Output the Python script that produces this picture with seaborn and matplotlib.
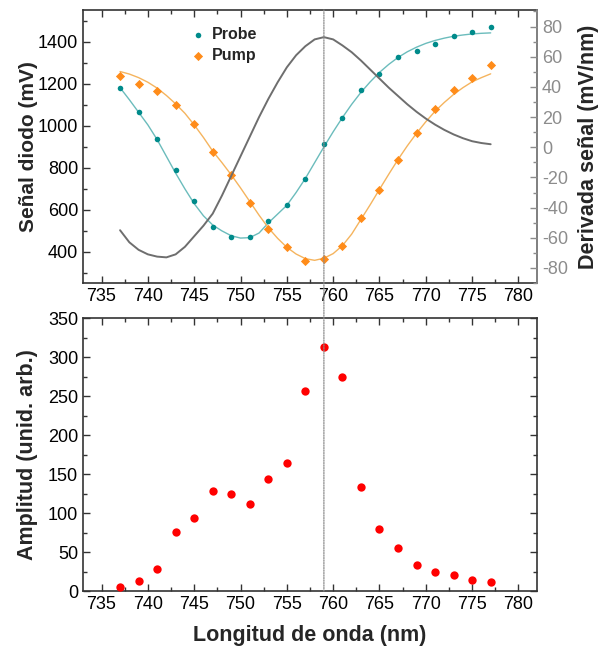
import matplotlib
matplotlib.use('Agg')
import matplotlib.pyplot as plt
from matplotlib.patches import ConnectionPatch
from matplotlib.ticker import MultipleLocator
import seaborn as sns
import pandas as pd
import numpy as np

sns.set_theme(style='ticks')
plt.rcParams['font.family'] = ['Liberation Sans', 'DejaVu Sans']
plt.rcParams['axes.unicode_minus'] = False

# measured points (2 nm steps)
wl = [737, 739, 741, 743, 745, 747, 749, 751, 753, 755, 757,
      759, 761, 763, 765, 767, 769, 771, 773, 775, 777]
probe = [1179, 1068, 940, 789, 641, 519, 471, 471, 548, 622, 749,
         913, 1040, 1170, 1249, 1330, 1359, 1390, 1430, 1449, 1470]
pump = [1238, 1199, 1165, 1099, 1008, 878, 767, 633, 510, 425, 356,
        365, 427, 560, 695, 838, 968, 1080, 1170, 1229, 1289]
amplitud = [5, 13, 28, 76, 94, 128, 124, 112, 143, 164, 256,
            313, 274, 134, 80, 55, 33, 24, 20, 14, 12]

# fitted curves (1 nm steps)
wl_fit = list(range(737, 778))
probe_fit = [1182, 1125, 1065, 1005, 935, 855, 775, 700, 630, 572,
             528, 500, 477, 466, 468, 490, 538, 580, 622, 683,
             750, 825, 900, 972, 1040, 1103, 1160, 1210, 1255, 1293,
             1326, 1353, 1375, 1393, 1407, 1418, 1427, 1433, 1438, 1441, 1443]
pump_fit = [1259, 1247, 1230, 1208, 1180, 1145, 1105, 1060, 1005, 945,
            880, 825, 767, 705, 640, 575, 515, 465, 422, 390,
            368, 360, 370, 392, 430, 485, 555, 625, 698, 770,
            840, 905, 965, 1020, 1070, 1112, 1150, 1182, 1210, 1230, 1248]
derivada = [-55, -63, -68, -71, -72.5, -73, -71, -66, -59, -52,
            -44, -32, -19, -6, 7, 20, 32, 43, 53, 61,
            67, 71.5, 73, 71.5, 67.5, 63, 57.5, 51.5, 45.5, 39.5,
            34, 28.5, 23.5, 19, 15, 11.5, 8.5, 6, 4, 2.8, 2]

pico = 759

teal = '#008b8b'
teal_fit = '#6bbcbc'
orange = '#ff8c1a'
orange_fit = '#f5b45e'
gris = '#6e6e6e'
eje = '#333333'

df = pd.DataFrame({'wl': wl, 'probe': probe, 'pump': pump, 'amp': amplitud})
fit = pd.DataFrame({'wl': wl_fit, 'probe': probe_fit, 'pump': pump_fit, 'der': derivada})

fig = plt.figure(figsize=(5.98, 6.53), dpi=100)
ax1 = fig.add_axes([0.1388, 0.5666, 0.7592, 0.4181])
ax2 = ax1.twinx()
ax3 = fig.add_axes([0.1388, 0.0949, 0.7592, 0.4181])

sns.lineplot(data=fit, x='wl', y='probe', ax=ax1, color=teal_fit, lw=1.0)
sns.lineplot(data=fit, x='wl', y='pump', ax=ax1, color=orange_fit, lw=1.0)
h1 = ax1.scatter(df['wl'], df['probe'], s=16, color=teal, marker='o', lw=0, zorder=3, label='Probe')
h2 = ax1.scatter(df['wl'], df['pump'], s=22, color=orange, marker='D', lw=0, zorder=3, label='Pump')
sns.lineplot(data=fit, x='wl', y='der', ax=ax2, color=gris, lw=1.4)

sns.scatterplot(data=df, x='wl', y='amp', ax=ax3, color='#ff0000', s=36, lw=0, zorder=3)

for ax in (ax1, ax3):
    ax.set_xlim(733, 782)
    ax.xaxis.set_major_locator(MultipleLocator(5))
    ax.xaxis.set_minor_locator(MultipleLocator(2.5))
    ax.set_xlabel('')
    for s in ax.spines.values():
        s.set_visible(True)
        s.set_color(eje)
        s.set_linewidth(1.2)

ax1.set_ylim(252, 1552)
ax1.yaxis.set_major_locator(MultipleLocator(200))
ax1.yaxis.set_minor_locator(MultipleLocator(100))
ax1.tick_params(axis='both', which='both', direction='in', top=True, right=False,
                labelsize=13, colors=eje, labelcolor='black')
ax1.tick_params(which='major', length=5, width=1)
ax1.tick_params(which='minor', length=3, width=1)
ax1.set_ylabel('Señal diodo (mV)', fontsize=15, fontweight='bold')
ax1.yaxis.set_label_coords(-0.10, 0.5)

ax2.set_ylim(-90, 91)
ax2.yaxis.set_major_locator(MultipleLocator(20))
ax2.yaxis.set_minor_locator(MultipleLocator(10))
ax2.tick_params(axis='y', which='both', direction='in', colors='#8c8c8c', labelsize=13)
ax2.tick_params(which='major', length=5, width=1)
ax2.tick_params(which='minor', length=3, width=1)
for k in ('left', 'top', 'bottom'):
    ax2.spines[k].set_visible(False)
ax2.spines['right'].set_color('#8c8c8c')
ax2.spines['right'].set_linewidth(1.2)
ax2.set_ylabel('Derivada señal (mV/nm)', fontsize=15.5, fontweight='bold')
ax2.yaxis.set_label_coords(1.091, 0.5)

ax3.set_ylim(0, 350)
ax3.yaxis.set_major_locator(MultipleLocator(50))
ax3.yaxis.set_minor_locator(MultipleLocator(25))
ax3.tick_params(axis='both', which='both', direction='in', top=True, right=True,
                labelsize=13, colors=eje, labelcolor='black')
ax3.tick_params(which='major', length=5, width=1)
ax3.tick_params(which='minor', length=3, width=1)
ax3.set_ylabel('Amplitud (unid. arb.)', fontsize=15.5, fontweight='bold')
ax3.yaxis.set_label_coords(-0.10, 0.5)
ax3.set_xlabel('Longitud de onda (nm)', fontsize=15.5, fontweight='bold', labelpad=9)

ax1.legend(handles=[h1, h2], frameon=False, loc='upper left', bbox_to_anchor=(0.2, 0.99),
           prop={'weight': 'bold', 'size': 11.5}, handletextpad=0.3, labelspacing=0.4,
           markerscale=1.0, handlelength=1.2)

con = ConnectionPatch(xyA=(pico, 1552), coordsA=ax1.transData,
                      xyB=(pico, 0), coordsB=ax3.transData,
                      color='#8a8a8a', lw=0.9, linestyle=(0, (1, 1)))
fig.add_artist(con)

fig.savefig('out.png', dpi=100)
